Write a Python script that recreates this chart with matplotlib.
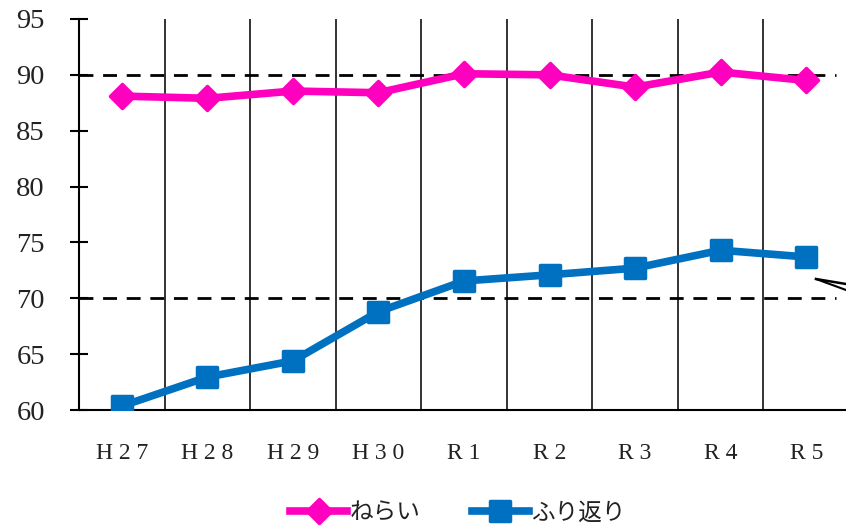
import matplotlib.pyplot as plt
from matplotlib.lines import Line2D
from matplotlib.markers import MarkerStyle

years = ['H27', 'H28', 'H29', 'H30', 'R1', 'R2', 'R3', 'R4', 'R5']
nerai = [88.1, 87.9, 88.55, 88.4, 90.1, 90.0, 88.9, 90.25, 89.5]
furikaeri = [60.35, 62.95, 64.4, 68.8, 71.55, 72.1, 72.7, 74.3, 73.7]
ref_lines = [70, 90]
y_ticks = [60, 65, 70, 75, 80, 85, 90, 95]

fig = plt.figure(figsize=(8.46, 5.28), dpi=100)
ax = fig.add_axes([79 / 846, 1 - 410 / 528, 770 / 846, 391 / 528])

x = list(range(len(years)))

# category boundaries
for b in range(1, len(years)):
    ax.axvline(b - 0.5, color='#222222', linewidth=1.3, zorder=1)

for r in ref_lines:
    ax.axhline(r, xmax=(836 - 79) / 770, color='black', linewidth=2,
               linestyle=(0, (5, 3.5)), zorder=2)

ax.plot(x, nerai, color='#FF00BF', linewidth=5.5,
        marker=MarkerStyle('D', joinstyle='round'), markersize=12.5,
        markeredgecolor='#FF00BF', markeredgewidth=2.5, solid_joinstyle='round',
        label='ねらい', zorder=3)
ax.plot(x, furikaeri, color='#0070C0', linewidth=5.5,
        marker=MarkerStyle('s', joinstyle='round'), markersize=14,
        markeredgecolor='#0070C0', markeredgewidth=2.5, solid_joinstyle='round',
        label='ふり返り', zorder=3)

ax.set_xlim(-0.5, len(years) - 0.5)
ax.set_ylim(60, 95)
ax.set_yticks(y_ticks)
ax.set_yticklabels([str(v) for v in y_ticks], fontsize=20.5, family='Liberation Serif',
                   color='#222222')
ax.set_xticks(x)
ax.set_xticklabels([' '.join(y) for y in years],
                   fontsize=17, family='Liberation Serif', color='#222222')
ax.tick_params(axis='x', length=0, pad=24)
ax.tick_params(axis='y', direction='inout', length=13, width=1.5, pad=18)

ax.spines['top'].set_visible(False)
ax.spines['right'].set_visible(False)
ax.spines['left'].set_linewidth(1.5)
ax.spines['bottom'].set_linewidth(1.5)

leg = fig.legend(loc='center', bbox_to_anchor=(458 / 846, 1 - 513 / 528), ncol=2,
                 frameon=False, prop={'family': 'Noto Sans CJK JP', 'size': 17},
                 handlelength=2.4, handletextpad=0.1, columnspacing=2.2)
for t in leg.get_texts():
    t.set_color('#222222')

# cut-off callout pointer at right edge
fig.add_artist(Line2D([816 / 846, 1.0], [1 - 279 / 528, 1 - 284 / 528],
                      color='black', linewidth=1.8))
fig.add_artist(Line2D([816 / 846, 1.0], [1 - 279 / 528, 1 - 290 / 528],
                      color='black', linewidth=1.5))

fig.savefig('out.png', dpi=100)
